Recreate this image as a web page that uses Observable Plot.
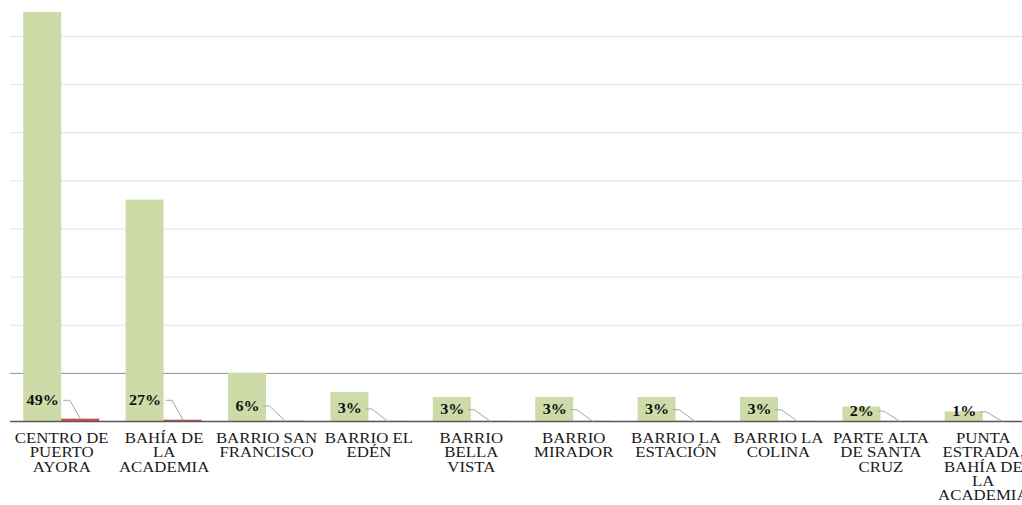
<!DOCTYPE html>
<html>
<head>
<meta charset="utf-8">
<script src="https://cdn.jsdelivr.net/npm/d3@7"></script>
<script src="https://cdn.jsdelivr.net/npm/@observablehq/plot@0.6"></script>
<style>
  html, body { margin: 0; padding: 0; background: #fff; overflow: hidden; width: 1022px; height: 505px; }
  #chart svg { display: block; }
</style>
</head>
<body>
<div id="chart"></div>
<script>
// ---- data ----
const categories = [
  "CENTRO DE\nPUERTO\nAYORA",
  "BAHÍA DE\nLA\nACADEMIA",
  "BARRIO SAN\nFRANCISCO",
  "BARRIO EL\nEDÉN",
  "BARRIO\nBELLA\nVISTA",
  "BARRIO\nMIRADOR",
  "BARRIO LA\nESTACIÓN",
  "BARRIO LA\nCOLINA",
  "PARTE ALTA\nDE SANTA\nCRUZ",
  "PUNTA\nESTRADA,\nBAHÍA DE\nLA\nACADEMIA"
];
const counts = [85, 46, 10, 6, 5, 5, 5, 5, 3, 2];
const shares = [0.49, 0.27, 0.06, 0.03, 0.03, 0.03, 0.03, 0.03, 0.02, 0.01];
const gridTicks = [10, 20, 30, 40, 50, 60, 70, 80];

// ---- layout ----
const W = 1022, H = 505;
const mL = 10, mR = -12, mT = 2.3125, mB = 84;
const pxPerX = (W - mL - mR) / categories.length;   // one category slot in px
const pad = 13.2 / pxPerX;                           // outer padding of a group
const bw = (1 - 2 * pad) / 2;                        // width of one bar (fraction of slot)
const fmt = v => Math.round(v * 100) + "%";

const rows = categories.map((c, i) => ({ i, cat: c, count: counts[i], share: shares[i], label: fmt(shares[i]) }));

const greenC = d => d.i + pad + bw / 2;
const redC = d => d.i + 0.5 + bw / 2;
const labelY = d => Math.min(4.4, 1.7 + d.count * 0.15);
const halfW = d => (d.label.length * 5 + 2);

const leaders = rows.flatMap(d => {
  const x0 = greenC(d) + (halfW(d) + 4) / pxPerX;
  return [
    { i: d.i, x: x0, y: labelY(d) },
    { i: d.i, x: x0 + 6 / pxPerX, y: labelY(d) },
    { i: d.i, x: redC(d), y: d.share }
  ];
});

const plot = Plot.plot({
  width: W,
  height: H,
  marginLeft: mL,
  marginRight: mR,
  marginTop: mT,
  marginBottom: mB,
  style: { fontFamily: "'Liberation Serif', 'Times New Roman', serif", background: "#fff", overflow: "visible" },
  x: { type: "linear", domain: [0, categories.length], axis: null },
  y: { domain: [0, 87], axis: null },
  marks: [
    Plot.ruleY(gridTicks.filter(t => t !== 10), { stroke: "#e2e2e2", strokeWidth: 1 }),
    Plot.ruleY(gridTicks.filter(t => t === 10), { stroke: "#8f8f8f", strokeWidth: 1 }),
    Plot.rect(rows, { x1: d => d.i + pad, x2: d => d.i + 0.5, y1: 0, y2: "count", fill: "#cddba9" }),
    Plot.rect(rows, { x1: d => d.i + 0.5, x2: d => d.i + 1 - pad, y1: 0, y2: "share", fill: "#c9504a" }),
    Plot.ruleY([0], { stroke: "#595959", strokeWidth: 1.6 }),
    Plot.line(leaders, { x: "x", y: "y", z: "i", stroke: "#a6a6a6", strokeWidth: 1 }),
    Plot.text(rows, { x: greenC, y: labelY, text: "label", fontWeight: "bold", fontSize: 14, fill: "#111" }),
    Plot.text(rows, { x: d => d.i + 0.5, y: 0, text: "cat", lineAnchor: "top", dy: 11, fontSize: 15, lineHeight: 0.96, fill: "#1a1a1a" })
  ]
});

// horizontal stretch of the text, as in the reference
plot.querySelectorAll("text").forEach(t => {
  const g = t.closest("g");
  const bold = g && g.getAttribute("font-weight") === "bold";
  const s = bold ? 1.15 : 1.12;
  let tr = t.getAttribute("transform");
  if (tr == null) {
    const x = +(t.getAttribute("x") || 0), y = +(t.getAttribute("y") || 0);
    t.removeAttribute("x"); t.removeAttribute("y");
    tr = `translate(${x},${y})`;
  }
  t.setAttribute("transform", tr + ` scale(${s},1)`);
});

document.getElementById("chart").appendChild(plot);
</script>
</body>
</html>
